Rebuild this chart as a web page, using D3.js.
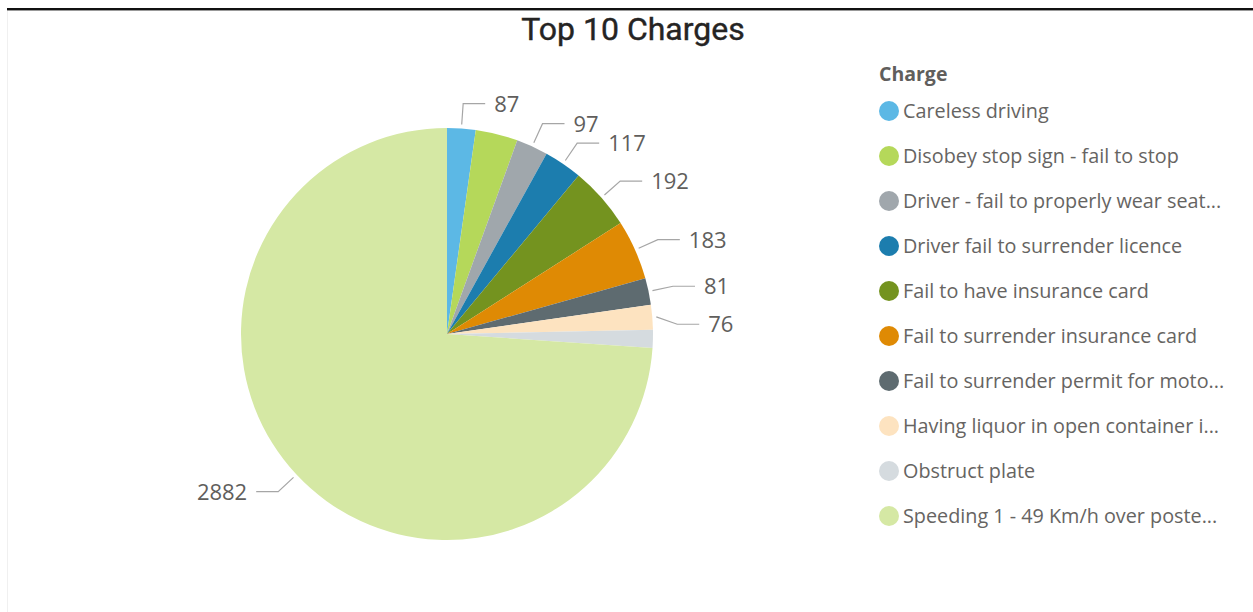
<!DOCTYPE html>
<html>
<head>
<meta charset="utf-8">
<script src="https://cdn.jsdelivr.net/npm/d3@7"></script>
<style>
  html, body { margin: 0; padding: 0; background: #fff; }
  svg { display: block; }
</style>
</head>
<body>
<svg id="chart" width="1253" height="612"></svg>
<script>
// ---- data ----
const categories = [
  "Careless driving",
  "Disobey stop sign - fail to stop",
  "Driver - fail to properly wear seat...",
  "Driver fail to surrender licence",
  "Fail to have insurance card",
  "Fail to surrender insurance card",
  "Fail to surrender permit for moto...",
  "Having liquor in open container i...",
  "Obstruct plate",
  "Speeding 1 - 49 Km/h over poste..."
];
const values = [87, 129, 97, 117, 192, 183, 81, 76, 55, 2882];
const shownLabels = [true, false, true, true, true, true, true, true, false, true];
const colors = ["#5CB8E5", "#B5D85A", "#A0A7AC", "#1C7DAE", "#74931F", "#DF8A04",
                "#5E6B70", "#FDE3C0", "#D5DBDF", "#D5E8A4"];
const titleText = "Top 10 Charges";
const legendTitle = "Charge";

// ---- layout ----
const svg = d3.select("#chart");
const W = 1253, H = 612;
const cx = 447, cy = 334, R = 206;

// frame lines
svg.append("line").attr("x1", 7).attr("x2", W).attr("y1", 9).attr("y2", 9)
  .attr("stroke", "#111").attr("stroke-width", 2);
svg.append("line").attr("x1", 7).attr("x2", W).attr("y1", 10.5).attr("y2", 10.5)
  .attr("stroke", "#999").attr("stroke-width", 1);
svg.append("line").attr("x1", 7.5).attr("x2", 7.5).attr("y1", 11).attr("y2", H)
  .attr("stroke", "#f0f0f0").attr("stroke-width", 1);

// title
svg.append("text").attr("x", 633).attr("y", 40)
  .attr("text-anchor", "middle")
  .attr("font-family", "Roboto, sans-serif").attr("font-size", 32)
  .attr("fill", "#252423")
  .attr("stroke", "#252423").attr("stroke-width", 0.4)
  .text(titleText);

const data = categories.map((c, i) => ({ cat: c, value: values[i], color: colors[i], show: shownLabels[i] }));

const pie = d3.pie().value(d => d.value).sort(null).startAngle(0).endAngle(2 * Math.PI);
const arcs = pie(data);
const arc = d3.arc().innerRadius(0).outerRadius(R);

const g = svg.append("g").attr("transform", `translate(${cx},${cy})`);
g.selectAll("path.slice").data(arcs).enter().append("path")
  .attr("class", "slice")
  .attr("d", arc)
  .attr("fill", d => d.data.color);

// leader lines & labels (vertical collision avoidance for labels that overlap horizontally)
const rStart = R + 4, rElbow = R + 25, hLen = 22, gap = 9, minSpace = 38;
const labelG = g.append("g");
const labels = arcs.filter(a => a.data.show).map(a => {
  const mid = (a.startAngle + a.endAngle) / 2;
  const right = Math.sin(mid) >= 0;
  const ex = rElbow * Math.sin(mid);
  const hx = ex + (right ? hLen : -hLen);
  return {
    a, right, hx, ex,
    sx: rStart * Math.sin(mid), sy: -rStart * Math.cos(mid),
    ey: -rElbow * Math.cos(mid),
    tx: hx + (right ? gap : -gap)
  };
});
labels.forEach(l => {
  const t = labelG.append("text")
    .attr("x", l.tx)
    .attr("dy", "0.36em")
    .attr("text-anchor", l.right ? "start" : "end")
    .attr("font-family", "'Open Sans', sans-serif").attr("font-size", 22)
    .attr("fill", "#605E5C")
    .text(d3.format("d")(l.a.data.value));
  l.text = t;
  l.w = t.node().getComputedTextLength();
  l.x0 = l.right ? l.tx : l.tx - l.w;
  l.x1 = l.x0 + l.w;
});
const rightLabels = labels.filter(l => l.right).sort((p, q) => p.ey - q.ey);
for (let i = 1; i < rightLabels.length; i++) {
  const p = rightLabels[i - 1], q = rightLabels[i];
  const overlapX = q.x0 < p.x1 && p.x0 < q.x1;
  if (overlapX && q.ey - p.ey < minSpace) q.ey = p.ey + minSpace;
}
labels.forEach(l => {
  labelG.insert("polyline", "text")
    .attr("points", `${l.sx},${l.sy} ${l.ex},${l.ey} ${l.hx},${l.ey}`)
    .attr("fill", "none").attr("stroke", "#a6a6a6").attr("stroke-width", 1.2);
  l.text.attr("y", l.ey);
});

// legend
const lx = 879, ly0 = 111, lstep = 45;
svg.append("text").attr("x", lx).attr("y", 81)
  .attr("font-family", "'Open Sans', sans-serif").attr("font-size", 19.5)
  .attr("font-weight", "bold").attr("fill", "#605E5C")
  .text(legendTitle);
const leg = svg.append("g").selectAll("g").data(data).enter().append("g")
  .attr("transform", (d, i) => `translate(${lx},${ly0 + i * lstep})`);
leg.append("circle").attr("cx", 10).attr("cy", 0).attr("r", 10).attr("fill", d => d.color);
leg.append("text").attr("x", 24).attr("y", 0).attr("dy", "0.36em")
  .attr("font-family", "'Open Sans', sans-serif").attr("font-size", 19.8)
  .attr("fill", "#666462")
  .text(d => d.cat);
</script>
</body>
</html>
